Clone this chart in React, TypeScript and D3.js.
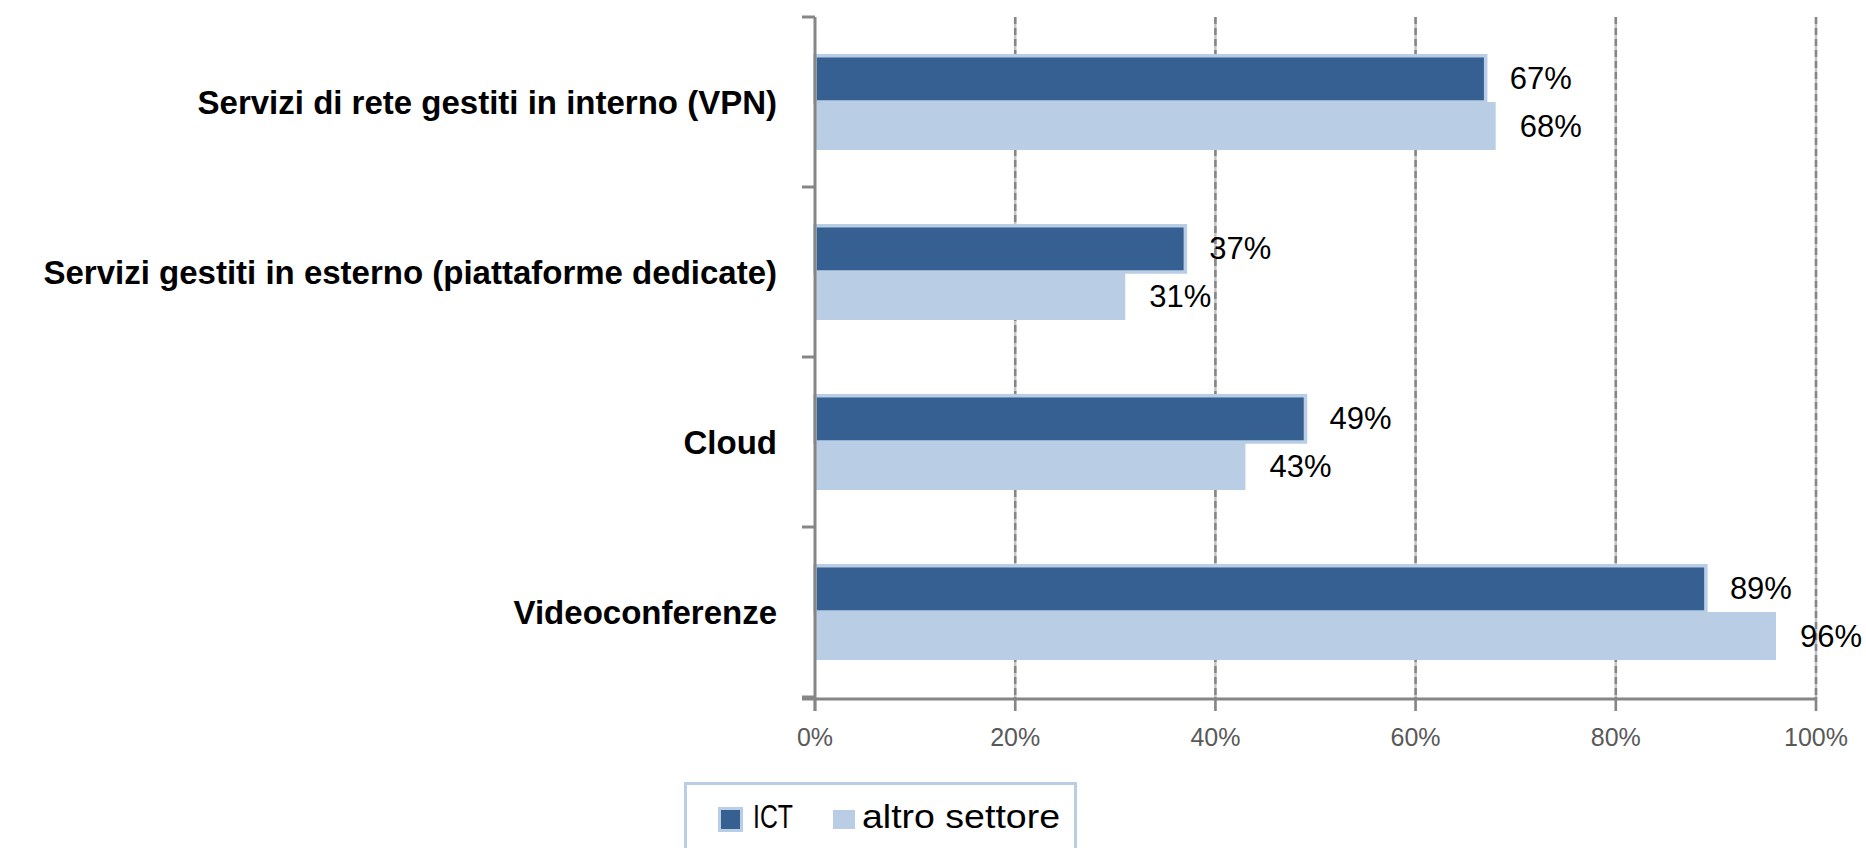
import React from "react";
import * as d3 from "d3";

const categories = [
  "Servizi di rete gestiti in interno (VPN)",
  "Servizi gestiti in esterno (piattaforme dedicate)",
  "Cloud",
  "Videoconferenze",
];
const seriesNames = ["ICT", "altro settore"];
const ictValues = [0.67, 0.37, 0.49, 0.89];
const altroValues = [0.68, 0.31, 0.43, 0.96];
const xTicks = [0, 0.2, 0.4, 0.6, 0.8, 1];

const DARK = "#366092";
const LIGHT = "#B9CDE5";
const AXIS = "#868686";

const W = 1866;
const H = 848;

export default function App() {
  const x = d3.scaleLinear().domain([0, 1]).range([815, 1816]);
  const y = d3
    .scaleBand<string>()
    .domain(categories)
    .range([17, 697])
    .paddingInner(0.435)
    .paddingOuter(0.2175);
  const sub = d3
    .scaleBand<string>()
    .domain(seriesNames)
    .range([0, y.bandwidth()]);
  const fmt = d3.format(".0%");

  const rows = categories.map((c, i) => ({
    cat: c,
    vals: [ictValues[i], altroValues[i]],
  }));

  const [y0, y1] = y.range();
  // category separators on the left axis
  const catTicks = [y0, ...categories.map((c) => (y(c) as number) + y.bandwidth() + (y.step() - y.bandwidth()) / 2)];

  return (
    <svg
      width={W}
      height={H}
      style={{ position: "absolute", left: 0, top: 0, background: "#fff" }}
      fontFamily="'Liberation Sans', Arial, sans-serif"
    >
      {/* gridlines */}
      {xTicks.slice(1).map((t) => (
        <g key={t}>
          <line x1={x(t)} x2={x(t)} y1={y0} y2={y1 + 14} stroke="#c4c4c4" strokeWidth={2.5} />
          <line
            x1={x(t)}
            x2={x(t)}
            y1={y0}
            y2={y1}
            stroke={AXIS}
            strokeWidth={2.5}
            strokeDasharray="7,4"
          />
        </g>
      ))}

      {/* bars */}
      {rows.map((r) => {
        const by = y(r.cat) as number;
        return (
          <g key={r.cat}>
            <rect
              x={x(0)}
              y={by + (sub("altro settore") as number)}
              width={x(r.vals[1]) - x(0)}
              height={sub.bandwidth()}
              fill={LIGHT}
            />
            <rect
              x={x(0)}
              y={by + (sub("ICT") as number) + 1.75}
              width={x(r.vals[0]) - x(0)}
              height={sub.bandwidth() - 1.75}
              fill={DARK}
              stroke={LIGHT}
              strokeWidth={3.5}
            />
            {r.vals.map((v, j) => (
              <text
                key={j}
                x={x(v) + 24}
                y={by + (sub(seriesNames[j]) as number) + sub.bandwidth() / 2}
                dy="0.36em"
                fontSize={31}
                fill="#000"
              >
                {fmt(v)}
              </text>
            ))}
            <text
              x={777}
              y={by + y.bandwidth() / 2}
              dy="0.35em"
              textAnchor="end"
              fontSize={33}
              fontWeight="bold"
              fill="#000"
            >
              {r.cat}
            </text>
          </g>
        );
      })}

      {/* left axis */}
      <line x1={x(0)} x2={x(0)} y1={y0} y2={y1 + 14} stroke={AXIS} strokeWidth={3} />
      {catTicks.map((t, i) => (
        <line key={i} x1={x(0) - 13} x2={x(0)} y1={t} y2={t} stroke={AXIS} strokeWidth={3} />
      ))}

      {/* bottom axis */}
      <line x1={x(0) - 13} x2={x(1)} y1={y1 + 2} y2={y1 + 2} stroke={AXIS} strokeWidth={3} />
      {xTicks.map((t) => (
        <g key={t}>
          <line x1={x(t)} x2={x(t)} y1={y1} y2={y1 + 14} stroke={AXIS} strokeWidth={2.5} />
          <text x={x(t)} y={746} textAnchor="middle" fontSize={25} fill="#595959">
            {fmt(t)}
          </text>
        </g>
      ))}

      {/* legend */}
      <rect x={685.5} y={783.5} width={390} height={100} fill="#fff" stroke={LIGHT} strokeWidth={3} />
      <rect x={719.5} y={808.5} width={22} height={22} fill={DARK} stroke={LIGHT} strokeWidth={3} />
      <text x={753} y={828} fontSize={33} fill="#000" textLength={40} lengthAdjust="spacingAndGlyphs">
        {seriesNames[0]}
      </text>
      <rect x={833} y={810} width={22} height={19} fill={LIGHT} />
      <text x={862} y={828} fontSize={33} fill="#000" textLength={198} lengthAdjust="spacingAndGlyphs">
        {seriesNames[1]}
      </text>
    </svg>
  );
}
